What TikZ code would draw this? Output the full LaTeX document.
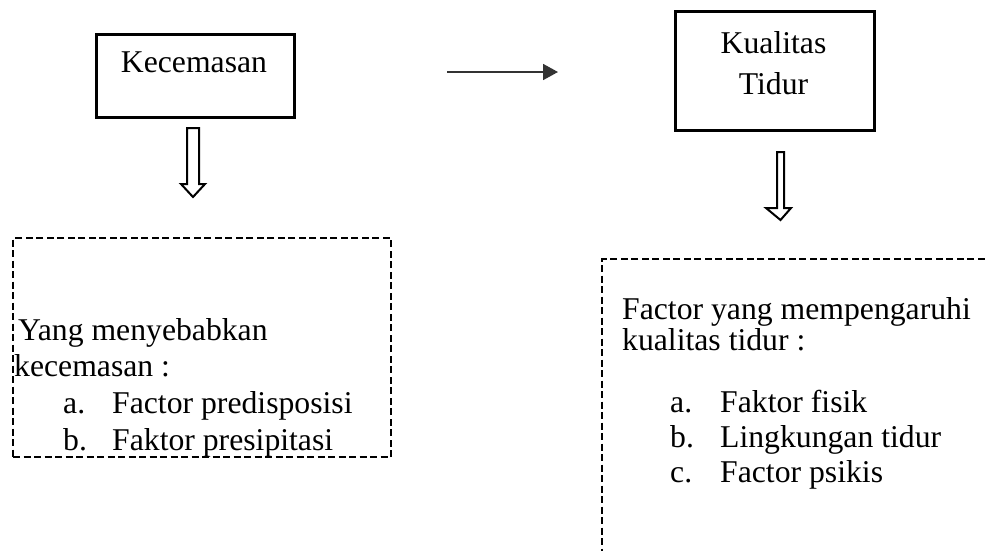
\documentclass[tikz,border=0pt]{standalone}
\usepackage{fontspec}
\setmainfont{Liberation Serif}
\usetikzlibrary{arrows.meta}
\begin{document}
\begin{tikzpicture}[x=1pt,y=-1pt,
  every node/.style={font=\fontsize{31.7}{36}\selectfont, inner sep=0pt},
  solidbox/.style={draw, line width=2.6pt, anchor=north west},
  dashbox/.style={draw, line width=2.4pt, dash pattern=on 7pt off 3.5pt, anchor=north west},
  txt/.style={anchor=base west},
  hollow/.style={draw, line width=2pt, fill=white, line join=miter},
  conn/.style={line width=1.8pt, draw=black!80, -{Triangle[length=15pt,width=16pt]}}]
\useasboundingbox (0,0) rectangle (985,550);
\clip (0,0) rectangle (985,550);
% boxes
\node[solidbox, minimum width=198pt, minimum height=83pt] (kec) at (95,33) {};
\node[anchor=base] (kectxt) at (194,72) {Kecemasan};
\node[solidbox, minimum width=199pt, minimum height=119pt] (kual) at (674,10) {};
\node[anchor=base] (kualtxt1) at (773.5,53) {Kualitas};
\node[anchor=base] (kualtxt2) at (773.5,94) {Tidur};
% connector between main boxes
\coordinate (cstart) at (447,72);
\coordinate (cend) at (558,72);
\draw[conn] (cstart) -- (cend);
% dashed boxes
\node[dashbox, minimum width=378pt, minimum height=219pt] (lbox) at (12,237) {};
\node[dashbox, minimum width=420pt, minimum height=330pt] (rbox) at (601,258) {};
% left text
\node[txt] (l1) at (18,340) {Yang menyebabkan};
\node[txt] (l2) at (14,376) {kecemasan :};
\node[txt] (l3a) at (63,413) {a.};
\node[txt] (l3) at (112,413) {Factor predisposisi};
\node[txt] (l4a) at (63,450) {b.};
\node[txt] (l4) at (112,450) {Faktor presipitasi};
% right text
\node[txt] (r1) at (622,319) {Factor yang mempengaruhi};
\node[txt] (r2) at (622,350) {kualitas tidur :};
\node[txt] (r3a) at (670,412) {a.};
\node[txt] (r3) at (720,412) {Faktor fisik};
\node[txt] (r4a) at (670,447) {b.};
\node[txt] (r4) at (720,447) {Lingkungan tidur};
\node[txt] (r5a) at (670,482) {c.};
\node[txt] (r5) at (720,482) {Factor psikis};
% hollow arrows
\draw[hollow] (187,128) -- (199,128) -- (199,184) -- (205,184) -- (193,197) -- (181,184) -- (187,184) -- cycle;
\draw[hollow] (777,152) -- (784,152) -- (784,208) -- (791,208) -- (780.5,220) -- (766,208) -- (777,208) -- cycle;
\end{tikzpicture}
\end{document}
